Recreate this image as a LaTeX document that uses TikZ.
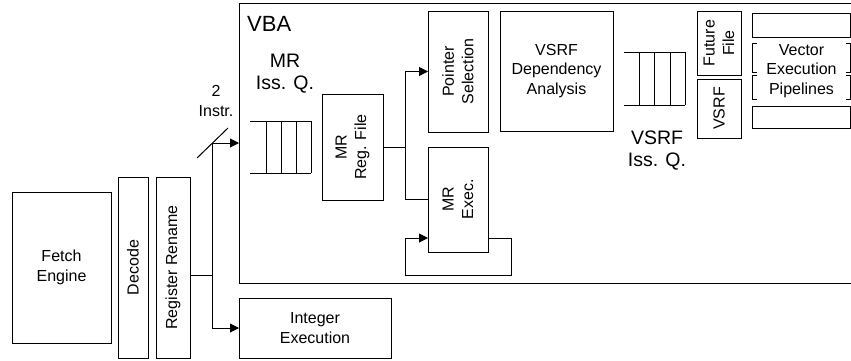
\documentclass[tikz,border=0pt]{standalone}
\usepackage{fontspec}
\setmainfont{Liberation Sans}
\usetikzlibrary{arrows.meta}
\newcommand\smfont{\fontsize{16}{19.5}\selectfont}
\newcommand\lgfont{\fontsize{19.5}{22}\selectfont}
\newcommand\xlfont{\fontsize{22}{24}\selectfont}
\begin{document}
\begin{tikzpicture}[x=1pt,y=-1pt,
  box/.style={draw, line width=1pt, inner sep=0pt, outer sep=0pt, rectangle},
  lbl/.style={inner sep=0pt, align=center, font=\smfont},
  big/.style={inner sep=0pt, align=center, font=\lgfont},
  rlbl/.style={lbl, rotate=90},
  wire/.style={line width=1pt},
  arr/.style={line width=1pt, -{Triangle[length=9pt,width=9pt]}}]
\useasboundingbox (0,0) rectangle (851,360);

% outer blocks
\node[box, minimum width=99pt, minimum height=151pt] (fe) at (61.5,267.5) {};
\node[lbl] at (fe) {Fetch\\Engine};
\node[box, minimum width=30pt, minimum height=181pt] (dec) at (133,267.5) {};
\node[rlbl] at (dec) {Decode};
\node[box, minimum width=34pt, minimum height=181pt] (rr) at (173,267.5) {};
\node[rlbl] at (rr) {Register Rename};
\node[box, minimum width=614pt, minimum height=280pt, anchor=north west] (vba) at (239,3) {};
\node[inner sep=0pt, font=\xlfont, anchor=west] (vbal) at (247,24) {VBA};
\node[box, minimum width=152pt, minimum height=60pt] (ie) at (315,328) {};
\node[lbl] at (ie) {Integer\\Execution};

% MR issue queue
\node[big] (mrql) at (285,74) {MR\\Iss. Q.};
\coordinate (mq1) at (250,121); \coordinate (mq2) at (311,173);
\draw[wire] (mq1) -- (mq1 -| mq2);
\draw[wire] (mq1 |- mq2) -- (mq2);
\foreach \x in {266,281,296,311} \draw[wire] (\x,121) -- (\x,173);

% MR blocks
\node[box, minimum width=61pt, minimum height=106pt] (rf) at (352.5,147) {};
\node[rlbl] at (rf) {MR\\Reg. File};
\node[box, minimum width=60pt, minimum height=121pt] (ps) at (458,71.5) {};
\node[rlbl] at (ps) {Pointer\\Selection};
\node[box, minimum width=60pt, minimum height=105pt] (mx) at (458,199.5) {};
\node[rlbl] at (mx) {MR\\Exec.};

% VSRF part
\node[box, minimum width=113pt, minimum height=120pt] (da) at (556.5,71) {};
\node[lbl] at (da) {VSRF\\Dependency\\Analysis};
\coordinate (vq1) at (624,52); \coordinate (vq2) at (685,105);
\draw[wire] (vq1) -- (vq1 -| vq2);
\draw[wire] (vq1 |- vq2) -- (vq2);
\foreach \x in {639,654,670,685} \draw[wire] (\x,52) -- (\x,105);
\node[big] (vql) at (657,151) {VSRF\\Iss. Q.};
\node[box, minimum width=44pt, minimum height=64pt] (ff) at (719,43) {};
\node[rlbl] at (ff) {Future\\File};
\node[box, minimum width=44pt, minimum height=59pt] (vs) at (719,108.5) {};
\node[rlbl] at (vs) {VSRF};

% vector execution pipelines
\node[box, minimum width=98pt, minimum height=24pt] (ve1) at (801,25) {};
\node[box, minimum width=98pt, minimum height=29pt] (ve2) at (801,57.5) {};
\node[box, minimum width=98pt, minimum height=24pt] (ve3) at (801,87) {};
\node[box, minimum width=98pt, minimum height=22pt] (ve4) at (801,117) {};
\node[lbl, fill=white, minimum width=89pt, minimum height=62pt] (vet) at (801.5,71) {Vector\\Execution\\Pipelines};

% connectors
\coordinate (j1) at (212,275);
\coordinate (vin) at (239,143);
\draw[wire] (rr.east |- j1) -- (j1);
\draw[arr] (j1) |- (vin);
\draw[arr] (j1) |- (ie.west);
\coordinate (s1) at (197,158); \coordinate (s2) at (228,128);
\draw[wire] (s1) -- (s2);
\node[lbl] (il) at (216,101) {2\\Instr.};

\coordinate (j2) at (405,147);
\draw[wire] (rf.east) -- (j2);
\draw[arr] (j2) |- (ps.west);
\draw[wire] (j2) |- (mx.west);
\coordinate (fa) at (511,275); \coordinate (fb) at (405,275);
\draw[arr] ([yshift=-38.5pt]mx.east) -| (fa) -- (fb) |- ([yshift=-38.5pt]mx.west);
\end{tikzpicture}
\end{document}
